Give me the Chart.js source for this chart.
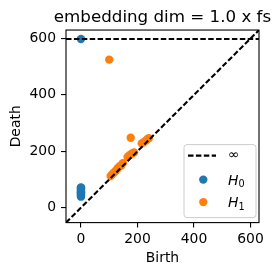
<!DOCTYPE html>
<html>
<head>
<meta charset="utf-8">
<script src="https://cdn.jsdelivr.net/npm/chart.js@4.4.1/dist/chart.umd.min.js"></script>
<style>
  html, body { margin: 0; padding: 0; background: #fff; }
  #wrap { width: 280px; height: 276px; }
</style>
</head>
<body>
<div id="wrap"><canvas id="diagram" width="280" height="276"></canvas></div>
<script>
// persistence diagram data
const axisRange = [-53, 630];
const tickValues = [0, 200, 400, 600];
const infDeath = 598;
const h0Birth = [0, 0, 0, 0, 0, 0, 0, 0, 0, 0, 0, 0, 0, 0];
const h0Death = [39, 42, 45, 48, 50, 53, 55, 58, 61, 64, 67, 70, 72, 598];
const h1Birth = [100, 176, 105, 110, 117, 124, 130, 137, 143, 148, 165, 172, 180, 188, 215, 222, 230, 236, 240];
const h1Death = [525, 248, 112, 118, 125, 132, 140, 147, 150, 158, 180, 186, 192, 196, 228, 232, 238, 244, 246];

const blue = '#1f77b4';
const orange = '#ff7f0e';
const tickFont = { family: '"DejaVu Sans"', size: 13.9 };

Chart.defaults.font.family = '"DejaVu Sans"';
Chart.defaults.color = '#000';

function toPoints(xs, ys) {
  return xs.map((x, i) => ({ x: x, y: ys[i] }));
}

function dashLine(data) {
  return {
    data: data,
    showLine: true,
    borderColor: '#000',
    borderWidth: 2.1,
    borderDash: [5.5, 2.4],
    pointRadius: 0,
    order: 0,
  };
}

// title is centred over the plot but is wider than it, so widen its box
const titleWidthPlugin = {
  id: 'titleWidth',
  afterLayout(chart) {
    const t = chart.titleBlock;
    if (t) {
      t.left -= 40;
      t.right += 40;
      t.width = t.right - t.left;
    }
  }
};

// box around the plot like matplotlib spines
const framePlugin = {
  id: 'frame',
  afterDatasetsDraw(chart) {
    const { ctx, chartArea: a } = chart;
    ctx.save();
    ctx.strokeStyle = '#000';
    ctx.lineWidth = 1.1;
    ctx.strokeRect(a.left, a.top, a.right - a.left, a.bottom - a.top);
    ctx.restore();
  }
};

// matplotlib-style legend box in the lower right
const legendPlugin = {
  id: 'mplLegend',
  afterDraw(chart) {
    const ctx = chart.ctx;
    const a = chart.chartArea;
    const w = 72, h = 73;
    const x0 = a.right - 3 - w, y0 = a.bottom - 5 - h;
    ctx.save();
    ctx.beginPath();
    ctx.roundRect(x0, y0, w, h, 3);
    ctx.fillStyle = 'rgba(255,255,255,0.8)';
    ctx.fill();
    ctx.strokeStyle = '#cccccc';
    ctx.lineWidth = 1;
    ctx.stroke();

    const rows = [y0 + 11, y0 + 35, y0 + 57.5];
    const textX = x0 + 44;

    ctx.beginPath();
    ctx.setLineDash([5.5, 2.4]);
    ctx.strokeStyle = '#000';
    ctx.lineWidth = 2.1;
    ctx.moveTo(x0 + 4, rows[0]);
    ctx.lineTo(x0 + 32, rows[0]);
    ctx.stroke();
    ctx.setLineDash([]);

    ctx.fillStyle = '#000';
    ctx.textBaseline = 'middle';
    ctx.font = '13.9px "DejaVu Sans"';
    ctx.fillText('\u221e', textX, rows[0]);

    const labels = [['H', '0', chart.data.datasets[2].pointBackgroundColor],
                    ['H', '1', chart.data.datasets[3].pointBackgroundColor]];
    labels.forEach((lab, i) => {
      const y = rows[i + 1];
      ctx.beginPath();
      ctx.arc(x0 + 19.3, y, 4.2, 0, Math.PI * 2);
      ctx.fillStyle = lab[2];
      ctx.fill();
      ctx.fillStyle = '#000';
      ctx.textBaseline = 'alphabetic';
      ctx.font = 'italic 13.9px "DejaVu Sans"';
      ctx.fillText(lab[0], textX, y + 5);
      const hw = ctx.measureText(lab[0]).width;
      ctx.font = '9.7px "DejaVu Sans"';
      ctx.fillText(lab[1], textX + hw, y + 7.5);
    });
    ctx.restore();
  }
};

function axisOptions(title, fitFn, tickPad) {
  return {
    type: 'linear',
    min: axisRange[0],
    max: axisRange[1],
    afterBuildTicks: (scale) => { scale.ticks = tickValues.map(v => ({ value: v })); },
    afterFit: fitFn,
    border: { display: false },
    grid: {
      drawOnChartArea: false,
      drawTicks: true,
      tickLength: 5,
      color: '#000',
      lineWidth: 1.1,
    },
    ticks: { font: tickFont, color: '#000', padding: tickPad },
    title: {
      display: true,
      text: title,
      font: tickFont,
      color: '#000',
      padding: { top: 8.5, bottom: 9.2 },
    },
  };
}

new Chart(document.getElementById('diagram'), {
  type: 'scatter',
  data: {
    datasets: [
      Object.assign({ label: '\u221e' }, dashLine([{ x: axisRange[0], y: infDeath }, { x: axisRange[1], y: infDeath }])),
      Object.assign({ label: 'diagonal' }, dashLine([{ x: axisRange[0], y: axisRange[0] }, { x: axisRange[1], y: axisRange[1] }])),
      {
        label: 'H0',
        data: toPoints(h0Birth, h0Death),
        pointBackgroundColor: blue,
        pointBorderWidth: 0,
        pointRadius: 4.2,
        order: 2,
      },
      {
        label: 'H1',
        data: toPoints(h1Birth, h1Death),
        pointBackgroundColor: orange,
        pointBorderWidth: 0,
        pointRadius: 4.2,
        order: 1,
      },
    ],
  },
  options: {
    responsive: false,
    animation: false,
    layout: { padding: { left: 0, right: 21, top: 0, bottom: 0 } },
    plugins: {
      legend: { display: false },
      tooltip: { enabled: false },
      title: {
        display: true,
        fullSize: false,
        text: 'embedding dim = 1.0 x fs',
        font: { family: '"DejaVu Sans"', size: 16.7, weight: 'normal' },
        color: '#000',
        padding: { top: 7.5, bottom: 2.5 },
      },
    },
    scales: {
      x: axisOptions('Birth', (s) => { s.height = 53.4; }, 3),
      y: axisOptions('Death', (s) => { s.width = 66; }, 5),
    },
  },
  plugins: [titleWidthPlugin, framePlugin, legendPlugin],
});
</script>
</body>
</html>
